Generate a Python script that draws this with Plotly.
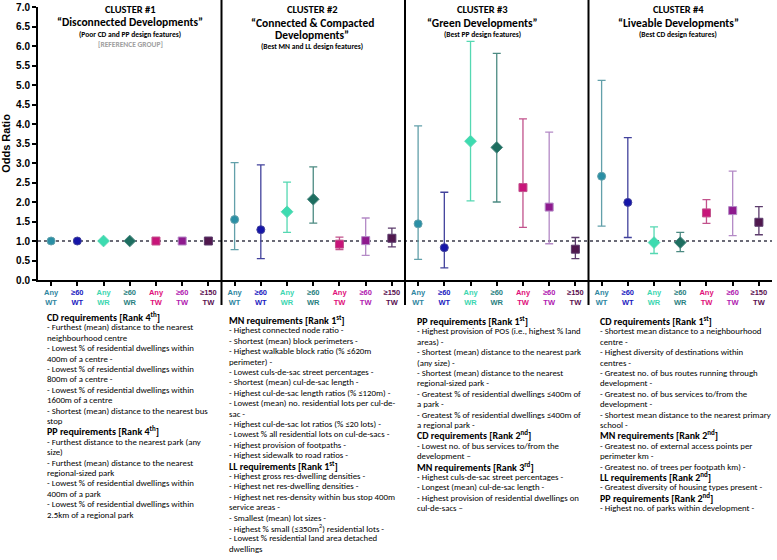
import plotly.graph_objects as go

# ---------------- data ----------------
groups = ["Any WT", "≥60 WT", "Any WR", "≥60 WR", "Any TW", "≥60 TW", "≥150 TW"]
tick_top = ["Any", "≥60", "Any", "≥60", "Any", "≥60", "≥150"]
tick_bot = ["WT", "WT", "WR", "WR", "TW", "TW", "TW"]

# Cluster 1 = reference group (OR = 1)
or_c1 = [1.0, 1.0, 1.0, 1.0, 1.0, 1.0, 1.0]

or_c2 = [1.55, 1.29, 1.75, 2.07, 0.92, 1.01, 1.07]
lo_c2 = [0.78, 0.55, 1.22, 1.46, 0.78, 0.63, 0.85]
hi_c2 = [3.01, 2.95, 2.51, 2.90, 1.10, 1.59, 1.33]

or_c3 = [1.44, 0.83, 3.56, 3.40, 2.37, 1.87, 0.79]
lo_c3 = [0.53, 0.31, 2.03, 2.00, 1.35, 0.93, 0.55]
hi_c3 = [3.95, 2.25, 6.12, 5.81, 4.13, 3.79, 1.09]

or_c4 = [2.66, 1.99, 0.96, 0.96, 1.72, 1.78, 1.48]
lo_c4 = [1.38, 1.09, 0.68, 0.73, 1.45, 1.14, 1.16]
hi_c4 = [5.12, 3.65, 1.36, 1.22, 2.06, 2.79, 1.88]

# ---------------- styles ----------------
marker_colors = ["#2a8fa5", "#1515a8", "#3ddbb0", "#1e6e60", "#c8157a", "#8e1a8e", "#50184e"]
bar_colors = ["#62a0aa", "#42429c", "#55d8b2", "#4c8a82", "#c2528c", "#b48ac6", "#5c3c6c"]
tick_colors = ["#2e86a0", "#1a1ac0", "#3cd6b0", "#2a7f7f", "#e0107a", "#b020b0", "#5a1050"]
symbols = ["circle", "circle", "diamond", "diamond", "square", "square", "square"]
sizes = [8, 8, 9, 9, 8, 8, 8]

L, R, T, B = 38, 5, 7, 280
W, H = 777, 560
PW, PH = W - L - R, H - T - B


def pxx(p):
    return (p - L) / PW


def pxy(p):
    return (H - B - p) / PH


fig = go.Figure()

clusters_or = [or_c2, or_c3, or_c4]
clusters_lo = [lo_c2, lo_c3, lo_c4]
clusters_hi = [hi_c2, hi_c3, hi_c4]

for g in range(7):
    mk = dict(symbol=symbols[g], size=sizes[g], color=marker_colors[g],
              line=dict(width=1, color=bar_colors[g]))
    # reference cluster (no CI)
    fig.add_trace(go.Scatter(x=[g], y=[or_c1[g]], mode="markers", showlegend=False, marker=mk))
    xs, ys, up, dn = [], [], [], []
    for c in range(3):
        xs.append((c + 1) * 7 + g)
        v = clusters_or[c][g]
        ys.append(v)
        up.append(clusters_hi[c][g] - v)
        dn.append(v - clusters_lo[c][g])
    fig.add_trace(go.Scatter(
        x=xs, y=ys, mode="markers", showlegend=False, marker=mk,
        error_y=dict(type="data", symmetric=False, array=up, arrayminus=dn,
                     color=bar_colors[g], thickness=1.3, width=4),
    ))

tickvals = list(range(28))
ticktext = []
for c in range(4):
    for g in range(7):
        col = tick_colors[g]
        ticktext.append(f"<span style='color:{col}'>{tick_top[g]}</span><br>"
                        f"<span style='color:{col}'>{tick_bot[g]}</span>")

AX_FONT = "Arial, Liberation Sans, sans-serif"
TXT_FONT = "Carlito, Calibri, Lato, sans-serif"

fig.update_layout(
    width=W, height=H,
    margin=dict(l=L, r=R, t=T, b=B, pad=0),
    paper_bgcolor="white", plot_bgcolor="white",
    xaxis=dict(range=[-0.5, 27.5], tickmode="array", tickvals=tickvals, ticktext=ticktext,
               showline=True, linecolor="black", linewidth=2, ticks="outside", ticklen=4,
               tickcolor="black", tickwidth=1.5, showgrid=False, zeroline=False,
               tickfont=dict(family=AX_FONT, size=7.5, color="black", weight="bold"),
               tickangle=0, automargin=False),
    yaxis=dict(range=[0, 7], dtick=0.5, tick0=0, tickformat=".1f",
               showline=True, linecolor="black", linewidth=2, ticks="outside", ticklen=4,
               tickcolor="black", tickwidth=1.5, showgrid=False, zeroline=False,
               tickfont=dict(family=AX_FONT, size=10, color="black", weight="bold"),
               automargin=False,
               title=dict(text="<b>Odds Ratio</b>", font=dict(family=AX_FONT, size=11, color="black"),
                          standoff=4)),
)

shapes = [dict(type="line", xref="x", yref="y", x0=-0.5, x1=27.5, y0=1, y1=1,
               line=dict(color="#3a3a4a", width=1.6, dash="dot"), layer="below")]
for xd in [6.5, 13.5, 20.5]:
    shapes.append(dict(type="line", xref="x", yref="paper", x0=xd, x1=xd,
                       y0=pxy(305), y1=pxy(0), line=dict(color="black", width=2)))
fig.update_layout(shapes=shapes)

ann = []


def txt(x, y, s, size, color="black", bold=True, xanchor="center", yanchor="middle", align="center"):
    ann.append(dict(xref="paper", yref="paper", x=pxx(x), y=pxy(y), text=(f"<b>{s}</b>" if bold else s),
                    showarrow=False, xanchor=xanchor, yanchor=yanchor, align=align,
                    font=dict(family=TXT_FONT, size=size, color=color)))


# Cluster headers
txt(130, 9.5, "CLUSTER #1", 10.5)
txt(130, 22, "\u201cDisconnected Developments\u201d", 11.5)
txt(130, 34, "(Poor CD and PP design features)", 7.5)
txt(130, 45, "[REFERENCE GROUP]", 7.5, color="#a0a0a0")

txt(312, 9.5, "CLUSTER #2", 10.5)
txt(312, 23, "\u201cConnected & Compacted", 11.5)
txt(312, 35, "Developments\u201d", 11.5)
txt(312, 46, "(Best MN and LL design features)", 7.5)

txt(482, 9.5, "CLUSTER #3", 10.5)
txt(482, 22.5, "\u201cGreen Developments\u201d", 11.5)
txt(482, 34, "(Best PP design features)", 7.5)

txt(678, 9.5, "CLUSTER #4", 10.5)
txt(678, 22.5, "\u201cLiveable Developments\u201d", 11.5)
txt(678, 34, "(Best CD design features)", 7.5)


def hdr(s):
    return f"<b><span style='font-size:10px'>{s}</span></b>"


block1 = [
    hdr("CD requirements [Rank 4<sup>th</sup>]"),
    "- Furthest (mean) distance to the nearest",
    "neighbourhood centre",
    "- Lowest % of residential dwellings within",
    "400m of a centre -",
    "- Lowest % of residential dwellings within",
    "800m of a centre -",
    "- Lowest % of residential dwellings within",
    "1600m of a centre",
    "- Shortest (mean) distance to the nearest bus",
    "stop",
    hdr("PP requirements [Rank 4<sup>th</sup>]"),
    "- Furthest distance to the nearest park (any",
    "size)",
    "- Furthest (mean) distance to the nearest",
    "regional-sized park",
    "- Lowest % of residential dwellings within",
    "400m of a park",
    "- Lowest % of residential dwellings within",
    "2.5km of a regional park",
]
block2 = [
    hdr("MN requirements [Rank 1<sup>st</sup>]"),
    "- Highest connected node ratio -",
    "- Shortest (mean) block perimeters -",
    "- Highest walkable block ratio (% ≤620m",
    "perimeter) -",
    "- Lowest culs-de-sac street percentages -",
    "- Shortest (mean) cul-de-sac length -",
    "- Highest cul-de-sac length ratios (% ≤120m) -",
    "- Lowest (mean) no. residential lots per cul-de-",
    "sac -",
    "- Highest cul-de-sac lot ratios (% ≤20 lots) -",
    "- Lowest % all residential lots on cul-de-sacs -",
    "- Highest provision of footpaths -",
    "- Highest sidewalk to road ratios -",
    hdr("LL requirements [Rank 1<sup>st</sup>]"),
    "- Highest gross res-dwelling densities -",
    "- Highest net res-dwelling densities -",
    "- Highest net res-density within bus stop 400m",
    "service areas -",
    "- Smallest (mean) lot sizes -",
    "- Highest % small (≤350m<sup>2</sup>) residential lots -",
    "- Lowest % residential land area detached",
    "dwellings",
]
block3 = [
    hdr("PP requirements [Rank 1<sup>st</sup>]"),
    "- Highest provision of POS (i.e., highest % land",
    "areas) -",
    "- Shortest (mean) distance to the nearest park",
    "(any size) -",
    "- Shortest (mean) distance to the nearest",
    "regional-sized park -",
    "- Greatest % of residential dwellings ≤400m of",
    "a park -",
    "- Greatest % of residential dwellings ≤400m of",
    "a regional park -",
    hdr("CD requirements [Rank 2<sup>nd</sup>]"),
    "- Lowest no. of bus services to/from the",
    "development \u2013",
    hdr("MN requirements [Rank 3<sup>rd</sup>]"),
    "- Highest culs-de-sac street percentages -",
    "- Longest (mean) cul-de-sac length -",
    "- Highest provision of residential dwellings on",
    "cul-de-sacs \u2013",
]
block4 = [
    hdr("CD requirements [Rank 1<sup>st</sup>]"),
    "- Shortest mean distance to a neighbourhood",
    "centre -",
    "- Highest diversity of destinations within",
    "centres -",
    "- Greatest no. of bus routes running through",
    "development -",
    "- Greatest no. of bus services to/from the",
    "development -",
    "- Shortest mean distance to the nearest primary",
    "school -",
    hdr("MN requirements [Rank 2<sup>nd</sup>]"),
    "- Greatest no. of external access points per",
    "perimeter km -",
    "- Greatest no. of trees per footpath km) -",
    hdr("LL requirements [Rank 2<sup>nd</sup>]"),
    "- Greatest diversity of housing types present -",
    hdr("PP requirements [Rank 2<sup>nd</sup>]"),
    "- Highest no. of parks within development -",
]

LS = 10.4
for bx, by, lines in [(45, 317, block1), (227, 320, block2), (415, 321, block3), (598, 321, block4)]:
    for k, line in enumerate(lines):
        txt(bx, by + k * LS, line, 8.8, bold=False, xanchor="left", align="left")

fig.update_layout(annotations=ann)
fig.write_html("out.html", config={"displayModeBar": False},
               post_script="document.body.style.margin='0px';document.body.style.padding='0px';")
